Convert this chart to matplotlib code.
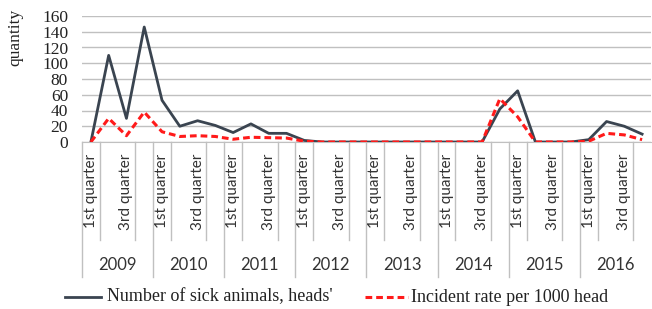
import matplotlib
matplotlib.use("Agg")
import matplotlib.pyplot as plt
from matplotlib.lines import Line2D
import matplotlib.transforms as mtransforms

years = ["2009", "2010", "2011", "2012", "2013", "2014", "2015", "2016"]
quarters = ["1st quarter", "2nd quarter", "3rd quarter", "4th quarter"]
shown_quarters = ["1st quarter", "3rd quarter"]

sick_animals = [0, 110, 30, 146,
                53, 20, 27, 21,
                12, 23, 11, 11,
                2, 0, 0, 0,
                0, 0, 0, 0,
                0, 0, 0, 42,
                65, 0, 0, 0,
                3, 26, 20, 10]
incident_rate = [0, 30, 8, 38,
                 13, 7, 8, 7,
                 3.5, 6, 5.5, 5,
                 1, 0, 0, 0,
                 0, 0, 0, 0,
                 0, 0, 0, 55,
                 32, 0, 0, 0,
                 1, 11, 9, 3]
y_ticks = [0, 20, 40, 60, 80, 100, 120, 140, 160]

W, H = 652, 309
fig = plt.figure(figsize=(W / 100, H / 100), dpi=100)
ax = fig.add_axes([82 / W, 1 - 142 / H, (651 - 82) / W, (142 - 16) / H])

n = len(sick_animals)
x = list(range(n))
grid_c = "#c0c0c0"

ax.set_xlim(-0.5, n - 0.5)
ax.set_ylim(0, 160)
ax.set_yticks(y_ticks)
ax.yaxis.grid(True, color=grid_c, lw=1.0)
ax.set_axisbelow(True)
for s in ["top", "right", "left"]:
    ax.spines[s].set_visible(False)
ax.spines["bottom"].set_color(grid_c)
ax.set_xticks([])
ax.tick_params(axis="y", length=0, pad=10)
for lab in ax.get_yticklabels():
    lab.set_fontfamily("Liberation Serif")
    lab.set_fontsize(12.5)
    lab.set_color("#222222")

ax.plot(x, sick_animals, color="#3a4450", lw=2.0, zorder=3)
ax.plot(x, incident_rate, color="#ff1a1a", lw=2.2, ls=(0, (2.2, 1.3)), zorder=4)

# category axis decoration
trans = mtransforms.blended_transform_factory(ax.transData, ax.transAxes)
ax_h_px = 142 - 16
def ypx(py):
    # pixel row (from top) -> axes fraction
    return (142 - py) / ax_h_px

for yi in range(len(years)):
    base = yi * 4
    for off in (0.5, 2.5):
        ax.plot([base + off, base + off], [0, ypx(240)], color=grid_c, lw=1.0,
                transform=trans, clip_on=False)
    ax.plot([base - 0.5, base - 0.5], [0, ypx(277)], color=grid_c, lw=1.0,
            transform=trans, clip_on=False)
    for qi, q in enumerate(quarters):
        if q in shown_quarters:
            ax.text(base + qi, ypx(154), q, rotation=90, ha="center", va="top",
                    fontsize=11, family="Lato", color="#333333",
                    transform=trans)
    ax.text(base + 1.5, ypx(265), years[yi], ha="center", va="center",
            fontsize=12, family="Lato", color="#333333", transform=trans)

fig.text(15 / W, 1 - 37 / H, "quantity", rotation=90, ha="center", va="center",
         fontsize=12.5, family="Liberation Serif", color="#222222")

# legend
ly = 1 - 297 / H
fig.add_artist(Line2D([65 / W, 101 / W], [ly, ly], color="#3a4450", lw=2.0))
fig.text(107 / W, ly, "Number of sick animals, heads'", ha="left", va="center",
         fontsize=13, family="Liberation Serif", color="#222222")
fig.add_artist(Line2D([365 / W, 408 / W], [ly, ly], color="#ff1a1a", lw=2.2,
                      ls=(0, (2.2, 1.3))))
fig.text(411 / W, ly, "Incident rate per 1000 head", ha="left", va="center",
         fontsize=13, family="Liberation Serif", color="#222222")

fig.savefig("out.png", dpi=100)
